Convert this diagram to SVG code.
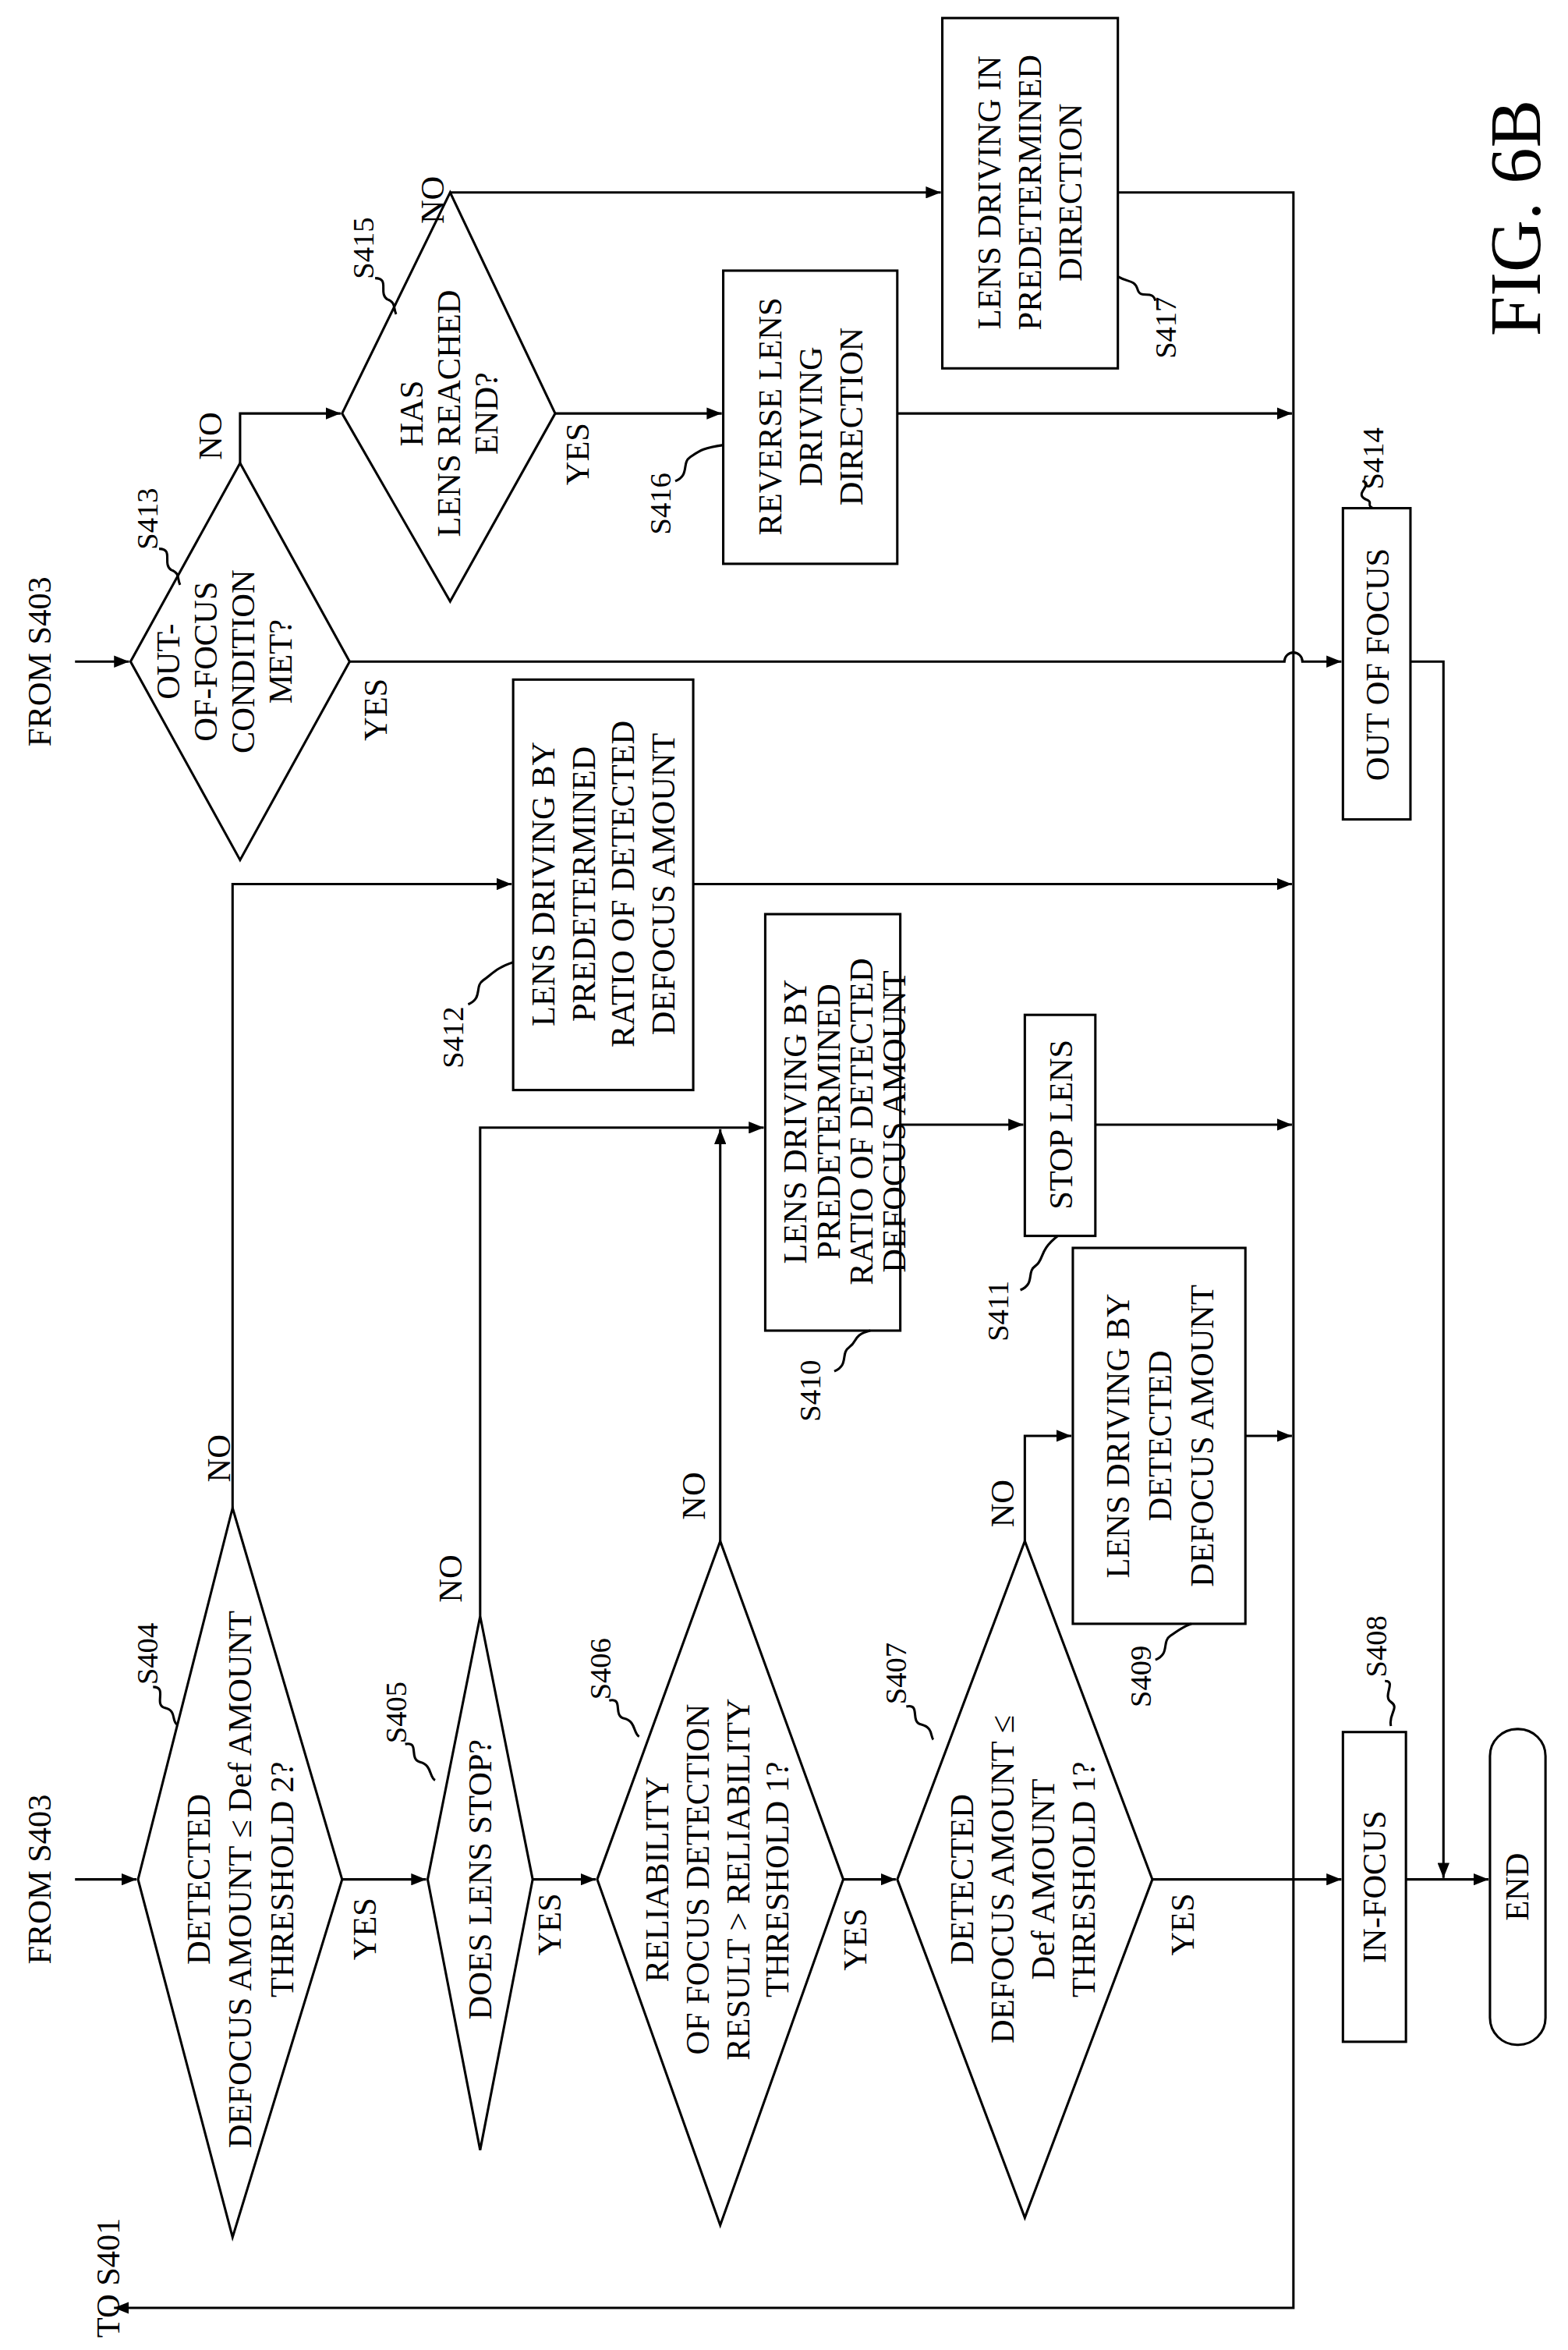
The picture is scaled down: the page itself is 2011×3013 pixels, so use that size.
<svg xmlns="http://www.w3.org/2000/svg" width="2011" height="3013" viewBox="0 0 2011 3013">
<defs>
<marker id="ah" markerWidth="10" markerHeight="8" refX="10" refY="4" orient="auto" markerUnits="userSpaceOnUse"><path d="M0,0 L10,4 L0,8 Z" fill="#000"/></marker>
<style>
.s{fill:none;stroke:#000;stroke-width:1.6}
.b{fill:#fff;stroke:#000;stroke-width:1.6}
.t{font-family:"Liberation Serif",serif;font-size:22px;text-anchor:middle;dominant-baseline:central;fill:#000}
.l{font-family:"Liberation Serif",serif;font-size:20px;text-anchor:middle;dominant-baseline:central;fill:#000}
</style>
</defs>
<rect width="2011" height="3013" fill="#fff"/>
<g transform="scale(1.9244,1.9277)">
<g id="connectors">
<path class="s" d="M50,1250 H91" marker-end="url(#ah)"/>
<path class="s" d="M50,440 H86" marker-end="url(#ah)"/>
<path class="s" d="M228,1250 H284" marker-end="url(#ah)"/>
<path class="s" d="M355,1250 H397" marker-end="url(#ah)"/>
<path class="s" d="M562,1250 H597" marker-end="url(#ah)"/>
<path class="s" d="M768,1250 H894" marker-end="url(#ah)"/>
<path class="s" d="M155,1003 V588 H341" marker-end="url(#ah)"/>
<path class="s" d="M320,1075 V750 H509" marker-end="url(#ah)"/>
<path class="s" d="M480,1025 V751" marker-end="url(#ah)"/>
<path class="s" d="M683,1025 V955 H714" marker-end="url(#ah)"/>
<path class="s" d="M600,748 H682" marker-end="url(#ah)"/>
<path class="s" d="M730,748 H861" marker-end="url(#ah)"/>
<path class="s" d="M830,955 H861" marker-end="url(#ah)"/>
<path class="s" d="M462,588 H861" marker-end="url(#ah)"/>
<path class="s" d="M598,275 H861" marker-end="url(#ah)"/>
<path class="s" d="M745,128 H862 V1535 H76" marker-end="url(#ah)"/>
<path class="s" d="M233,440 H856 A6,6 0 0 1 868,440 H894" marker-end="url(#ah)"/>
<path class="s" d="M160,308 V275 H227" marker-end="url(#ah)"/>
<path class="s" d="M300,128 H627" marker-end="url(#ah)"/>
<path class="s" d="M370,275 H481" marker-end="url(#ah)"/>
<path class="s" d="M937,1250 H992" marker-end="url(#ah)"/>
<path class="s" d="M940,440 H962 V1249" marker-end="url(#ah)"/>
</g>
<g id="S404"><path class="b" d="M155,1003 L228,1250 L155,1488 L92,1250 Z"/>
<text class="t" transform="translate(132,1250) rotate(-90)">DETECTED</text>
<text class="t" transform="translate(160,1250) rotate(-90)">DEFOCUS AMOUNT ≤ Def AMOUNT</text>
<text class="t" transform="translate(188,1250) rotate(-90)">THRESHOLD 2?</text></g>
<g id="S405"><path class="b" d="M320,1075 L355,1250 L320,1430 L285,1250 Z"/>
<text class="t" transform="translate(320,1250) rotate(-90)">DOES LENS STOP?</text></g>
<g id="S406"><path class="b" d="M480,1025 L562,1250 L480,1480 L398,1250 Z"/>
<text class="t" transform="translate(438,1250) rotate(-90)">RELIABILITY</text>
<text class="t" transform="translate(465,1250) rotate(-90)">OF FOCUS DETECTION</text>
<text class="t" transform="translate(492,1250) rotate(-90)">RESULT &gt; RELIABILITY</text>
<text class="t" transform="translate(518,1250) rotate(-90)">THRESHOLD 1?</text></g>
<g id="S407"><path class="b" d="M683,1025 L768,1250 L683,1475 L598,1250 Z"/>
<text class="t" transform="translate(641,1250) rotate(-90)">DETECTED</text>
<text class="t" transform="translate(668,1250) rotate(-90)">DEFOCUS AMOUNT ≤</text>
<text class="t" transform="translate(695,1250) rotate(-90)">Def AMOUNT</text>
<text class="t" transform="translate(722,1250) rotate(-90)">THRESHOLD 1?</text></g>
<g id="S408"><rect class="b" x="895" y="1152" width="42" height="206"/>
<text class="t" transform="translate(916,1255) rotate(-90)">IN-FOCUS</text></g>
<g id="END"><rect class="b" x="993" y="1150" width="37" height="210" rx="18"/>
<text class="t" transform="translate(1011,1255) rotate(-90)">END</text></g>
<g id="S409"><rect class="b" x="715" y="830" width="115" height="250"/>
<text class="t" transform="translate(745,955) rotate(-90)">LENS DRIVING BY</text>
<text class="t" transform="translate(773,955) rotate(-90)">DETECTED</text>
<text class="t" transform="translate(801,955) rotate(-90)">DEFOCUS AMOUNT</text></g>
<g id="S410"><rect class="b" x="510" y="608" width="90" height="277"/>
<text class="t" transform="translate(530,746) rotate(-90)">LENS DRIVING BY</text>
<text class="t" transform="translate(552,746) rotate(-90)">PREDETERMINED</text>
<text class="t" transform="translate(574,746) rotate(-90)">RATIO OF DETECTED</text>
<text class="t" transform="translate(596,746) rotate(-90)">DEFOCUS AMOUNT</text></g>
<g id="S411"><rect class="b" x="683" y="675" width="47" height="147"/>
<text class="t" transform="translate(707,748) rotate(-90)">STOP LENS</text></g>
<g id="S412"><rect class="b" x="342" y="452" width="120" height="273"/>
<text class="t" transform="translate(362,588) rotate(-90)">LENS DRIVING BY</text>
<text class="t" transform="translate(389,588) rotate(-90)">PREDETERMINED</text>
<text class="t" transform="translate(415,588) rotate(-90)">RATIO OF DETECTED</text>
<text class="t" transform="translate(442,588) rotate(-90)">DEFOCUS AMOUNT</text></g>
<g id="S413"><path class="b" d="M160,308 L233,440 L160,572 L87,440 Z"/>
<text class="t" transform="translate(112,440) rotate(-90)">OUT-</text>
<text class="t" transform="translate(137,440) rotate(-90)">OF-FOCUS</text>
<text class="t" transform="translate(162,440) rotate(-90)">CONDITION</text>
<text class="t" transform="translate(187,440) rotate(-90)">MET?</text></g>
<g id="S414"><rect class="b" x="895" y="338" width="45" height="207"/>
<text class="t" transform="translate(918,442) rotate(-90)">OUT OF FOCUS</text></g>
<g id="S415"><path class="b" d="M300,128 L370,275 L300,400 L228,275 Z"/>
<text class="t" transform="translate(274,275) rotate(-90)">HAS</text>
<text class="t" transform="translate(299,275) rotate(-90)">LENS REACHED</text>
<text class="t" transform="translate(324,275) rotate(-90)">END?</text></g>
<g id="S416"><rect class="b" x="482" y="180" width="116" height="195"/>
<text class="t" transform="translate(513,277) rotate(-90)">REVERSE LENS</text>
<text class="t" transform="translate(540,277) rotate(-90)">DRIVING</text>
<text class="t" transform="translate(567,277) rotate(-90)">DIRECTION</text></g>
<g id="S417"><rect class="b" x="628" y="12" width="117" height="233"/>
<text class="t" transform="translate(659,128) rotate(-90)">LENS DRIVING IN</text>
<text class="t" transform="translate(686,128) rotate(-90)">PREDETERMINED</text>
<text class="t" transform="translate(713,128) rotate(-90)">DIRECTION</text></g>
<g id="labels">
<text class="t" transform="translate(26,1250) rotate(-90)">FROM S403</text>
<text class="t" transform="translate(26,440) rotate(-90)">FROM S403</text>
<text class="t" transform="translate(72,1515) rotate(-90)">TO S401</text>
<text class="t" transform="translate(243,1283) rotate(-90)">YES</text>
<text class="t" transform="translate(366,1280) rotate(-90)">YES</text>
<text class="t" transform="translate(570,1290) rotate(-90)">YES</text>
<text class="t" transform="translate(788,1280) rotate(-90)">YES</text>
<text class="t" transform="translate(250,472) rotate(-90)">YES</text>
<text class="t" transform="translate(385,302) rotate(-90)">YES</text>
<text class="t" transform="translate(146,970) rotate(-90)">NO</text>
<text class="t" transform="translate(300,1050) rotate(-90)">NO</text>
<text class="t" transform="translate(462,995) rotate(-90)">NO</text>
<text class="t" transform="translate(668,1000) rotate(-90)">NO</text>
<text class="t" transform="translate(140,290) rotate(-90)">NO</text>
<text class="t" transform="translate(288,133) rotate(-90)">NO</text>
<text class="l" transform="translate(98,1100) rotate(-90)">S404</text>
<text class="l" transform="translate(264,1139) rotate(-90)">S405</text>
<text class="l" transform="translate(400,1110) rotate(-90)">S406</text>
<text class="l" transform="translate(597,1113) rotate(-90)">S407</text>
<text class="l" transform="translate(917,1095) rotate(-90)">S408</text>
<text class="l" transform="translate(760,1115) rotate(-90)">S409</text>
<text class="l" transform="translate(540,925) rotate(-90)">S410</text>
<text class="l" transform="translate(665,872) rotate(-90)">S411</text>
<text class="l" transform="translate(302,690) rotate(-90)">S412</text>
<text class="l" transform="translate(98,345) rotate(-90)">S413</text>
<text class="l" transform="translate(915,305) rotate(-90)">S414</text>
<text class="l" transform="translate(242,165) rotate(-90)">S415</text>
<text class="l" transform="translate(440,335) rotate(-90)">S416</text>
<text class="l" transform="translate(777,218) rotate(-90)">S417</text>
<text style="font-family:'Liberation Serif',serif;font-size:48px;text-anchor:middle;dominant-baseline:central" transform="translate(1010,145) rotate(-90)">FIG. 6B</text>
</g>
<g id="leaders" class="s">
<path class="s" d="M102,1122 c10,0 0,12 8,14 c8,2 4,8 8,11"/>
<path class="s" d="M270,1160 c10,-2 2,10 10,12 c8,2 6,10 10,12"/>
<path class="s" d="M406,1131 c10,-2 2,10 10,12 c8,2 6,10 10,12"/>
<path class="s" d="M604,1135 c10,-2 2,10 10,12 c8,2 6,8 8,10"/>
<path class="s" d="M923,1118 c8,0 -2,10 4,14 c6,4 -2,8 0,16"/>
<path class="s" d="M770,1104 c10,-4 4,-12 10,-16 c6,-4 8,-6 14,-8"/>
<path class="s" d="M556,912 c10,-4 4,-12 10,-16 c6,-4 2,-8 14,-11"/>
<path class="s" d="M680,858 c10,-4 4,-12 10,-16 c6,-4 2,-10 15,-20"/>
<path class="s" d="M312,668 c10,-4 4,-12 10,-16 c6,-4 8,-8 20,-12"/>
<path class="s" d="M106,365 c10,0 2,10 8,14 c6,2 4,6 6,10"/>
<path class="s" d="M908,320 c8,2 -6,8 2,12 c6,2 0,4 5,6"/>
<path class="s" d="M250,185 c10,0 2,10 8,14 c6,2 4,6 6,10"/>
<path class="s" d="M450,320 c10,-4 4,-12 10,-16 c6,-4 8,-6 22,-8"/>
<path class="s" d="M770,200 c-2,-8 -10,0 -12,-8 c-2,-6 -6,-4 -13,-8"/>
</g>
</g>
</svg>
